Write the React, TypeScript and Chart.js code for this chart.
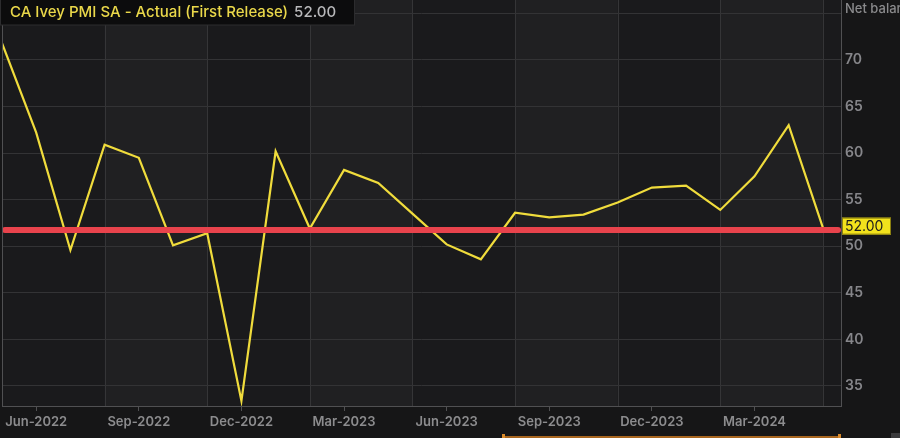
import React, { useEffect, useRef } from "react";
import { Chart, registerables } from "chart.js";

Chart.register(...registerables);

const months = [
  "May-2022", "Jun-2022", "Jul-2022", "Aug-2022", "Sep-2022", "Oct-2022", "Nov-2022",
  "Dec-2022", "Jan-2023", "Feb-2023", "Mar-2023", "Apr-2023", "May-2023", "Jun-2023",
  "Jul-2023", "Aug-2023", "Sep-2023", "Oct-2023", "Nov-2023", "Dec-2023", "Jan-2024",
  "Feb-2024", "Mar-2024", "Apr-2024", "May-2024",
];
const values = [
  71.8, 62.2, 49.6, 60.9, 59.5, 50.1, 51.4, 33.4, 60.2, 51.9, 58.2, 56.8, 53.5,
  50.2, 48.6, 53.6, 53.1, 53.4, 54.7, 56.3, 56.5, 53.9, 57.5, 63.0, 52.0,
];
const xTickLabels = [
  "Jun-2022", "Sep-2022", "Dec-2022", "Mar-2023", "Jun-2023", "Sep-2023", "Dec-2023", "Mar-2024",
];
const yTickValues = [35, 40, 45, 50, 55, 60, 65, 70, 75];
const yLabelHidden = [75];
const refLevel = 51.75;
const lastValue = 52.0;
const lastValueText = "52.00";
const titleText = "CA Ivey PMI SA - Actual (First Release)";
const yAxisTitle = "Net balance";

const FONT = "Inter, 'Noto Sans', sans-serif";

export default function App() {
  const ref = useRef<HTMLCanvasElement | null>(null);

  useEffect(() => {
    document.body.style.margin = "0";
    document.body.style.background = "#161617";
    const canvas = ref.current;
    if (!canvas) return;

    const xTickIdx = xTickLabels.map((l) => months.indexOf(l));

    const decor = {
      id: "decor",
      beforeDraw(chart: any) {
        const { ctx, chartArea: a, scales } = chart;
        const x = scales.x;
        ctx.save();
        ctx.fillStyle = "#161617";
        ctx.fillRect(0, 0, chart.width, chart.height);
        ctx.fillStyle = "#1a1a1c";
        ctx.fillRect(a.left, a.top, a.right - a.left, a.bottom - a.top);
        for (let k = 0; k * 3 < months.length + 3; k++) {
          const x0 = x.getPixelForValue(k * 3);
          const x1 = Math.min(x.getPixelForValue(k * 3 + 3), a.right);
          if (x0 >= a.right) break;
          if (k % 2 === 1) {
            ctx.fillStyle = "#202022";
            ctx.fillRect(x0, a.top, x1 - x0, a.bottom - a.top);
          }
        }
        ctx.strokeStyle = "#353537";
        ctx.lineWidth = 1;
        for (let i = 0; i < months.length; i += 3) {
          const px = Math.round(x.getPixelForValue(i)) + 0.5;
          ctx.beginPath();
          ctx.moveTo(px, a.top);
          ctx.lineTo(px, a.bottom);
          ctx.stroke();
        }
        ctx.restore();
      },
      afterDatasetsDraw(chart: any) {
        const { ctx, chartArea: a, scales } = chart;
        const y = scales.y.getPixelForValue(refLevel);
        ctx.save();
        ctx.strokeStyle = "#e8434c";
        ctx.lineWidth = 6;
        ctx.lineCap = "round";
        ctx.beginPath();
        ctx.moveTo(a.left + 3, y);
        ctx.lineTo(a.right - 3, y);
        ctx.stroke();
        ctx.restore();
      },
      afterDraw(chart: any) {
        const { ctx, chartArea: a } = chart;
        ctx.save();
        ctx.strokeStyle = "#505052";
        ctx.lineWidth = 1;
        ctx.beginPath();
        ctx.moveTo(a.left + 0.5, a.top);
        ctx.lineTo(a.left + 0.5, a.bottom);
        ctx.stroke();
        // title box
        ctx.fillStyle = "#0c0c0d";
        ctx.fillRect(0, 0, 355, 25);
        ctx.strokeStyle = "#2c2c2e";
        ctx.strokeRect(0.5, -1, 354, 26);
        ctx.font = `500 15px ${FONT}`;
        ctx.textBaseline = "middle";
        ctx.textAlign = "left";
        ctx.fillStyle = "#ead84a";
        ctx.fillText(titleText, 10, 12.5);
        const w = ctx.measureText(titleText).width;
        ctx.fillStyle = "#b9b9bb";
        ctx.fillText(lastValueText, 10 + w + 6, 12.5);
        // y axis title (clipped)
        ctx.font = `500 13px ${FONT}`;
        ctx.fillStyle = "#8a8a8c";
        ctx.fillText(yAxisTitle, a.right + 4, 9);
        // last value label
        const ly = chart.scales.y.getPixelForValue(lastValue);
        ctx.fillStyle = "#f2e21c";
        ctx.fillRect(a.right + 1, ly - 10, 49, 17);
        ctx.strokeStyle = "#8a7f10";
        ctx.lineWidth = 1;
        ctx.strokeRect(a.right + 1.5, ly - 9.5, 48, 16);
        ctx.fillStyle = "#1c1c1c";
        ctx.font = `14px ${FONT}`;
        ctx.fillText(lastValueText, a.right + 4, ly - 1);
        // navigator line
        ctx.strokeStyle = "#a8661f";
        ctx.lineWidth = 2;
        ctx.beginPath();
        ctx.moveTo(503, 437);
        ctx.lineTo(840, 437);
        ctx.stroke();
        ctx.fillStyle = "#d98a2a";
        ctx.fillRect(502, 434, 3, 4);
        ctx.fillRect(838, 434, 3, 4);
        ctx.fillStyle = "#3a3a3c";
        ctx.fillRect(891, 433, 9, 5);
        ctx.restore();
      },
    };

    const chart = new Chart(canvas, {
      type: "line",
      data: {
        datasets: [
          {
            data: values.map((v, i) => ({ x: i, y: v })),
            borderColor: "#f0dc3c",
            borderWidth: 2.2,
            pointRadius: 0,
            tension: 0,
            fill: false,
          },
        ],
      },
      options: {
        responsive: false,
        animation: false,
        layout: { padding: { left: 2, top: 0, right: 0, bottom: 0 } },
        plugins: { legend: { display: false }, tooltip: { enabled: false } },
        scales: {
          x: {
            type: "linear",
            min: 0,
            max: 24.53,
            afterBuildTicks: (s: any) => {
              s.ticks = xTickIdx.map((v) => ({ value: v }));
            },
            afterFit: (s: any) => {
              s.height = 32;
              s.paddingLeft = 0;
              s.paddingRight = 0;
            },
            ticks: {
              autoSkip: false,
              maxRotation: 0,
              padding: 3,
              color: "#8c8c8e",
              font: { family: FONT, size: 13, weight: "600" },
              callback: (v: any) => months[v] ?? "",
            },
            grid: { drawOnChartArea: false, drawTicks: true, tickLength: 5, tickColor: "#505052" },
            border: { display: true, color: "#505052" },
          },
          y: {
            type: "linear",
            position: "right",
            min: 32.85,
            max: 76.44,
            afterBuildTicks: (s: any) => {
              s.ticks = yTickValues.map((v) => ({ value: v }));
            },
            afterFit: (s: any) => {
              s.width = 59;
              s.paddingTop = 0;
              s.paddingBottom = 0;
            },
            ticks: {
              padding: 4,
              color: "#86868a",
              font: { family: FONT, size: 14, weight: "600" },
              callback: (v: any) => (yLabelHidden.includes(v) ? "" : String(v)),
            },
            grid: { color: "#333335", drawTicks: false },
            border: { display: true, color: "#505052" },
          },
        },
      },
      plugins: [decor],
    } as any);

    return () => chart.destroy();
  }, []);

  return (
    <div style={{ width: 900, height: 438 }}>
      <canvas ref={ref} width={900} height={438} style={{ display: "block" }} />
    </div>
  );
}
